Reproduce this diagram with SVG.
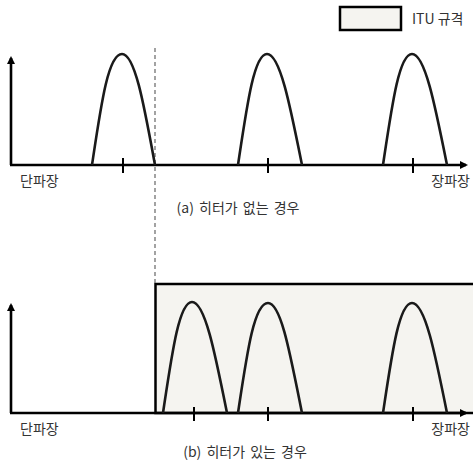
<svg xmlns="http://www.w3.org/2000/svg" width="473" height="463" viewBox="0 0 473 463">
<style>
.ax{stroke:#000;stroke-width:2.6;fill:none}
.pk{stroke:#1a1a1a;stroke-width:2.6;fill:none;stroke-linejoin:round}
.tk{stroke:#000;stroke-width:2}
.t{font-family:"Noto Sans CJK KR","Noto Sans",sans-serif;font-size:14px;fill:#333}
.cap{word-spacing:2px}
.box{fill:#f5f4f0;stroke:#000;stroke-width:2.5}
</style>
<defs>
<marker id="ar" markerWidth="8" markerHeight="8" refX="6" refY="4" orient="auto" markerUnits="userSpaceOnUse">
<path d="M0,0 L8,4 L0,8 Z" fill="#000"/>
</marker>
</defs>
<g id="legend">
<rect class="box" x="340" y="7" width="61" height="23"/>
<text class="t" x="412" y="24">ITU 규격</text>
</g>
<g id="panel-b-band">
<rect class="box" x="155.5" y="284" width="330" height="129"/>
</g>
<g id="connectors">
<line x1="155" y1="48" x2="155" y2="283" stroke="#666" stroke-width="1.2" stroke-dasharray="4,3"/>
<line class="ax" x1="11" y1="165" x2="11" y2="58" marker-end="url(#ar)"/>
<line class="ax" x1="10" y1="165" x2="466" y2="165" marker-end="url(#ar)"/>
<line class="ax" x1="11" y1="413" x2="11" y2="305" marker-end="url(#ar)"/>
<line class="ax" x1="10" y1="413" x2="466" y2="413" marker-end="url(#ar)"/>
</g>
<g id="panel-a">
<line class="tk" x1="123" y1="158" x2="123" y2="173"/>
<line class="tk" x1="268" y1="158" x2="268" y2="173"/>
<line class="tk" x1="413" y1="158" x2="413" y2="173"/>
<path class="pk" d="M92,165 C101,105 108,54 122,54 C135,54 144,105 155,165"/>
<path class="pk" d="M238,165 C247,105 254,54 267,54 C280,54 290,105 302,165"/>
<path class="pk" d="M383,165 C392,105 399,54 412,54 C425,54 435,105 447,165"/>
<text class="t" x="20" y="186">단파장</text>
<text class="t" x="470" y="186" text-anchor="end">장파장</text>
<text class="t cap" x="238" y="213" text-anchor="middle">(a) 히터가 없는 경우</text>
</g>
<g id="panel-b">
<line class="tk" x1="194" y1="407" x2="194" y2="421"/>
<line class="tk" x1="268" y1="407" x2="268" y2="421"/>
<line class="tk" x1="413" y1="407" x2="413" y2="421"/>
<path class="pk" d="M163,413 C172,353 179,302 192,302 C205,302 215,353 227,413"/>
<path class="pk" d="M238,413 C247,353 254,303 268,303 C281,303 290,353 302,413"/>
<path class="pk" d="M383,413 C392,353 399,303 412,303 C425,303 435,353 447,413"/>
<text class="t" x="20" y="434">단파장</text>
<text class="t" x="470" y="434" text-anchor="end">장파장</text>
<text class="t cap" x="245" y="457" text-anchor="middle">(b) 히터가 있는 경우</text>
</g>
</svg>
